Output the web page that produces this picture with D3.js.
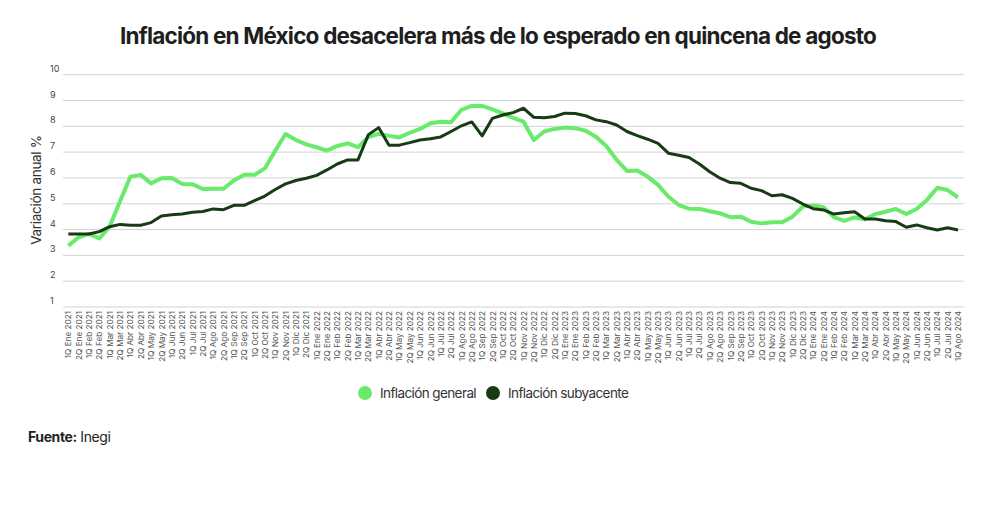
<!DOCTYPE html>
<html>
<head>
<meta charset="utf-8">
<script src="https://cdn.jsdelivr.net/npm/d3@7"></script>
<style>
  body { margin: 0; background: #fff; }
  svg text { font-family: Inter, "Liberation Sans", sans-serif; }
</style>
</head>
<body>
<div id="chart"></div>
<script>
// quincenas, Ene 2021 - 1Q Ago 2024
let quincenas = [
  "1Q Ene 2021","2Q Ene 2021","1Q Feb 2021","2Q Feb 2021","1Q Mar 2021","2Q Mar 2021",
  "1Q Abr 2021","2Q Abr 2021","1Q May 2021","2Q May 2021","1Q Jun 2021","2Q Jun 2021",
  "1Q Jul 2021","2Q Jul 2021","1Q Ago 2021","2Q Ago 2021","1Q Sep 2021","2Q Sep 2021",
  "1Q Oct 2021","2Q Oct 2021","1Q Nov 2021","2Q Nov 2021","1Q Dic 2021","2Q Dic 2021",
  "1Q Ene 2022","2Q Ene 2022","1Q Feb 2022","2Q Feb 2022","1Q Mar 2022","2Q Mar 2022",
  "1Q Abr 2022","2Q Abr 2022","1Q May 2022","2Q May 2022","1Q Jun 2022","2Q Jun 2022",
  "1Q Jul 2022","2Q Jul 2022","1Q Ago 2022","2Q Ago 2022","1Q Sep 2022","2Q Sep 2022",
  "1Q Oct 2022","2Q Oct 2022","1Q Nov 2022","2Q Nov 2022","1Q Dic 2022","2Q Dic 2022",
  "1Q Ene 2023","2Q Ene 2023","1Q Feb 2023","2Q Feb 2023","1Q Mar 2023","2Q Mar 2023",
  "1Q Abr 2023","2Q Abr 2023","1Q May 2023","2Q May 2023","1Q Jun 2023","2Q Jun 2023",
  "1Q Jul 2023","2Q Jul 2023","1Q Ago 2023","2Q Ago 2023","1Q Sep 2023","2Q Sep 2023",
  "1Q Oct 2023","2Q Oct 2023","1Q Nov 2023","2Q Nov 2023","1Q Dic 2023","2Q Dic 2023",
  "1Q Ene 2024","2Q Ene 2024","1Q Feb 2024","2Q Feb 2024","1Q Mar 2024","2Q Mar 2024",
  "1Q Abr 2024","2Q Abr 2024","1Q May 2024","2Q May 2024","1Q Jun 2024","2Q Jun 2024",
  "1Q Jul 2024","2Q Jul 2024","1Q Ago 2024"
];

// inflacion general (anual %)
let general = [
  3.38, 3.70, 3.83, 3.66, 4.12, 5.10, 6.05, 6.12, 5.79, 5.99, 6.00, 5.77,
  5.76, 5.57, 5.58, 5.58, 5.90, 6.12, 6.12, 6.37, 7.05, 7.70, 7.47, 7.30,
  7.19, 7.06, 7.24, 7.34, 7.19, 7.58, 7.71, 7.63, 7.57, 7.75, 7.90, 8.12,
  8.18, 8.16, 8.64, 8.79, 8.79, 8.66, 8.50, 8.33, 8.18, 7.47, 7.80, 7.90,
  7.95, 7.93, 7.83, 7.60, 7.24, 6.70, 6.27, 6.29, 6.05, 5.73, 5.28, 4.95,
  4.81, 4.80, 4.71, 4.63, 4.48, 4.50, 4.30, 4.24, 4.28, 4.28, 4.50, 4.89,
  4.93, 4.87, 4.48, 4.34, 4.47, 4.40, 4.60, 4.69, 4.80, 4.60, 4.80, 5.15,
  5.62, 5.53, 5.25
];

// inflacion subyacente (anual %)
let subyacente = [
  3.83, 3.83, 3.83, 3.92, 4.11, 4.20, 4.17, 4.17, 4.27, 4.53, 4.57, 4.60,
  4.67, 4.70, 4.80, 4.77, 4.94, 4.94, 5.12, 5.30, 5.55, 5.77, 5.90, 5.99,
  6.10, 6.31, 6.54, 6.70, 6.70, 7.67, 7.95, 7.27, 7.27, 7.37, 7.47, 7.52,
  7.59, 7.80, 8.02, 8.17, 7.63, 8.31, 8.44, 8.53, 8.70, 8.35, 8.33, 8.38,
  8.51, 8.50, 8.41, 8.25, 8.18, 8.05, 7.80, 7.64, 7.50, 7.34, 6.96, 6.88,
  6.79, 6.54, 6.24, 5.99, 5.82, 5.79, 5.60, 5.51, 5.31, 5.35, 5.21, 4.99,
  4.81, 4.76, 4.60, 4.65, 4.69, 4.41, 4.41, 4.34, 4.31, 4.09, 4.18, 4.07,
  3.98, 4.07, 3.98
];

let yTicks = [1, 2, 3, 4, 5, 6, 7, 8, 9, 10];

let svgWidth = 1000;
let svgHeight = 509;

let svg = d3.select('#chart')
    .append('svg')
    .attr('width', svgWidth)
    .attr('height', svgHeight);

// title
svg.append('text')
    .attr('x', 498)
    .attr('y', 44)
    .attr('text-anchor', 'middle')
    .attr('font-size', 22.5)
    .attr('font-weight', 700)
    .attr('letter-spacing', -0.8)
    .attr('fill', '#1e1e1e')
    .text('Inflación en México desacelera más de lo esperado en quincena de agosto');

// scales
let xScale = d3.scalePoint()
    .domain(quincenas)
    .range([68.3, 958]);

let yScale = d3.scaleLinear()
    .domain([1, 10])
    .range([307, 74.7]);

// grid lines
svg.append('g')
    .selectAll('line')
    .data(yTicks)
    .enter()
    .append('line')
    .attr('x1', 63)
    .attr('x2', 964)
    .attr('y1', d => yScale(d))
    .attr('y2', d => yScale(d))
    .attr('stroke', '#d2d2d2')
    .attr('stroke-width', 1);

// y tick labels sit just above each grid line
svg.append('g')
    .selectAll('text')
    .data(yTicks)
    .enter()
    .append('text')
    .attr('x', 50)
    .attr('y', d => yScale(d) - 3)
    .attr('font-size', 9)
    .attr('fill', '#444')
    .text(d => d);

// y axis title
svg.append('text')
    .attr('transform', 'translate(41, 190) rotate(-90)')
    .attr('text-anchor', 'middle')
    .attr('font-size', 13.5)
    .attr('letter-spacing', -0.3)
    .attr('fill', '#333')
    .text('Variación anual %');

// x labels, rotated
let xAxis = d3.axisBottom(xScale).tickSize(0).tickPadding(0);
let xg = svg.append('g')
    .attr('transform', 'translate(0, 311)')
    .call(xAxis);
xg.select('.domain').remove();
xg.selectAll('text')
    .attr('transform', 'rotate(-90)')
    .attr('text-anchor', 'end')
    .attr('x', 0)
    .attr('y', 0)
    .attr('dy', '0.32em')
    .attr('font-size', 8.2)
    .attr('font-family', '"Liberation Sans", Arial, sans-serif')
    .attr('fill', '#555');

// lines
let line = d3.line()
    .x((d, i) => xScale(quincenas[i]))
    .y(d => yScale(d));

svg.append('path')
    .datum(general)
    .attr('fill', 'none')
    .attr('stroke', '#6aea6a')
    .attr('stroke-width', 4)
    .attr('stroke-linejoin', 'round')
    .attr('d', line);

svg.append('path')
    .datum(subyacente)
    .attr('fill', 'none')
    .attr('stroke', '#173b12')
    .attr('stroke-width', 3)
    .attr('stroke-linejoin', 'round')
    .attr('d', line);

// legend
let legend = [
  { name: 'Inflación general', color: '#6aea6a', x: 365 },
  { name: 'Inflación subyacente', color: '#173b12', x: 493 }
];
let lg = svg.append('g');
lg.selectAll('circle')
    .data(legend)
    .enter()
    .append('circle')
    .attr('cx', d => d.x)
    .attr('cy', 393)
    .attr('r', 7)
    .attr('fill', d => d.color);
lg.selectAll('text')
    .data(legend)
    .enter()
    .append('text')
    .attr('x', d => d.x + 15)
    .attr('y', 398)
    .attr('font-size', 13.5)
    .attr('letter-spacing', -0.6)
    .attr('fill', '#333')
    .text(d => d.name);

// source
let src = svg.append('text')
    .attr('x', 28)
    .attr('y', 442)
    .attr('font-size', 14)
    .attr('letter-spacing', -0.4)
    .attr('fill', '#222');
src.append('tspan').attr('font-weight', 700).text('Fuente:');
src.append('tspan').text(' Inegi');
</script>
</body>
</html>
